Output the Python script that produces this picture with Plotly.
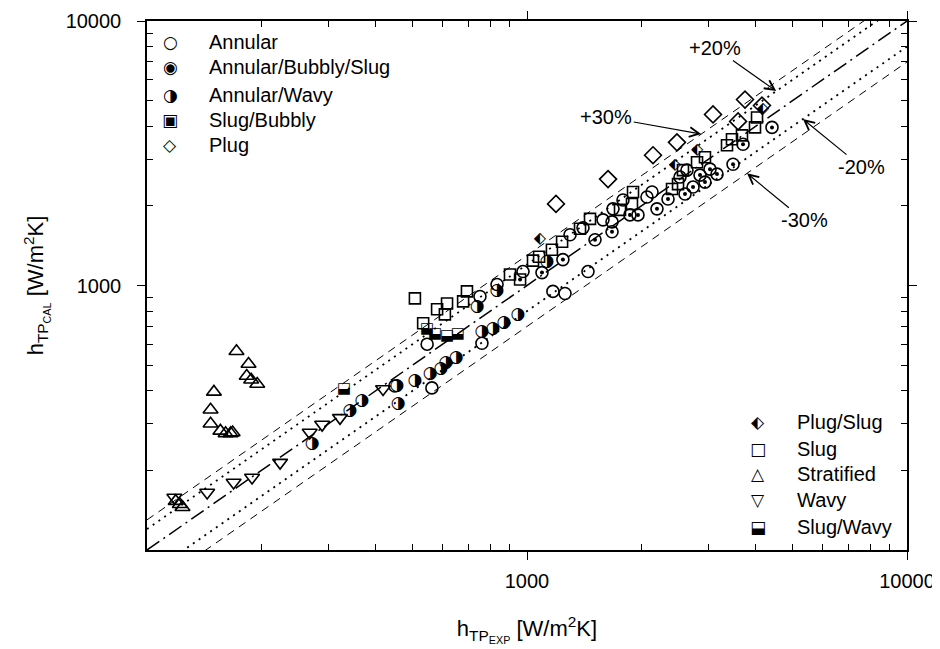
import math
import plotly.graph_objects as go

# ---------------- data (h_TP_EXP, h_TP_CAL) in W/m2K ----------------
annular_x = [546, 752, 761, 834, 976, 1170, 1259, 1447, 562, 449, 1585, 1684, 1789, 2133, 2069, 2527, 2636, 1674, 1298, 1404]
annular_y = [600, 909, 605, 1009, 1129, 950, 933, 1129, 410, 417, 1771, 1949, 2106, 2257, 2161, 2570, 2730, 1740, 1555, 1652]

abs_x = [1095, 1243, 1510, 1674, 1866, 1959, 2198, 2350, 2605, 2735, 2853, 2940, 3162, 3485, 3702, 4413, 3031]
abs_y = [1119, 1253, 1489, 1596, 1849, 1849, 1949, 2123, 2218, 2356, 2614, 2460, 2637, 2874, 3419, 3961, 2754]

aw_x = [272, 455, 507, 556, 594, 612, 651, 458, 739, 834, 761, 814, 870, 947, 1129, 342, 368]
aw_y = [252, 417, 436, 463, 483, 509, 531, 357, 834, 958, 671, 689, 720, 778, 1231, 336, 366]

sb_x = [959]
sb_y = [1053]

plug_x = [1192, 1634, 2146, 2481, 3087, 3747, 3593, 4153]
plug_y = [2034, 2526, 3108, 3478, 4433, 5047, 4172, 4791]

ps_x = [1082, 2452, 2802, 4178]
ps_y = [1502, 2851, 3245, 4629]

slug_x = [507, 533, 580, 616, 608, 679, 695, 902, 1037, 1076, 1465, 1379, 1757, 1889, 1901, 2408,
          2497, 2573, 2802, 2940, 3360, 3463, 3679, 3981, 4030, 1163, 1237]
slug_y = [894, 720, 813, 855, 778, 871, 950, 1100, 1242, 1285, 1786, 1638, 1932, 2034, 2257, 2316,
          2418, 2730, 2925, 3055, 3389, 3570, 3696, 3961, 4318, 1365, 1464]

strat_x = [172, 185, 183, 188, 195, 150, 147, 147, 156, 161, 166, 168, 119, 122, 124]
strat_y = [564, 505, 455, 440, 424, 396, 339, 300, 282, 276, 276, 278, 153, 149, 145]

wavy_x = [118, 144, 169, 189, 224, 268, 289, 322, 418]
wavy_y = [158, 165, 180, 188, 214, 278, 298, 316, 406]

sw_x = [546, 573, 616, 658, 330]
sw_y = [683, 654, 643, 654, 406]

ratios = [1.3, 1.2, 1.0, 0.8, 0.7]
axis_range = [100, 10000]

FONT = "Liberation Sans, Arial, Helvetica, sans-serif"
GLYPH = "DejaVu Sans"

fig = go.Figure()

# reference lines y = r * x
line_styles = {1.3: ("8px,6px", 1.0), 1.2: ("2px,5px", 1.8), 1.0: ("15px,5px,2px,5px", 1.5),
               0.8: ("2px,5px", 1.8), 0.7: ("8px,6px", 1.0)}
for r in ratios:
    dash, w = line_styles[r]
    fig.add_trace(go.Scatter(x=axis_range, y=[r * v for v in axis_range], mode="lines",
                             line=dict(color="black", width=w, dash=dash),
                             showlegend=False, hoverinfo="skip"))


def mk(x, y, symbol, size, name, width=1.6):
    fig.add_trace(go.Scatter(x=x, y=y, mode="markers", name=name, showlegend=False,
                             marker=dict(symbol=symbol, size=size, color="black",
                                         line=dict(color="black", width=width))))


def glyph(x, y, ch, size, name):
    fig.add_trace(go.Scatter(x=x, y=y, mode="text", name=name, showlegend=False,
                             text=[ch] * len(x),
                             textfont=dict(family=GLYPH, size=size, color="black")))


mk(strat_x, strat_y, "triangle-up-open", 13, "Stratified")
mk(wavy_x, wavy_y, "triangle-down-open", 13, "Wavy")
mk(slug_x, slug_y, "square-open", 11, "Slug")
mk(annular_x, annular_y, "circle-open", 12, "Annular")
mk(plug_x, plug_y, "diamond-open", 13, "Plug")
glyph(sw_x, sw_y, "\u2B13", 15, "Slug/Wavy")
glyph(aw_x, aw_y, "\u25D1", 17, "Annular/Wavy")
mk(abs_x, abs_y, "circle-open", 12, "Annular/Bubbly/Slug")
mk(abs_x, abs_y, "circle", 4, "Annular/Bubbly/Slug centre", width=0)
mk(sb_x, sb_y, "square-open", 11, "Slug/Bubbly")
mk(sb_x, sb_y, "circle", 4, "Slug/Bubbly centre", width=0)
glyph(ps_x, ps_y, "\u2B16", 16, "Plug/Slug")

annotations = []
# percent labels with arrows (head on the line, label at tail)
heads = {"+20%": (4527, 1.2, -61, -43), "+30%": (2874, 1.3, -95, -17),
         "-20%": (5321, 0.8, 59, 48), "-30%": (3793, 0.7, 57, 47)}
for lab, (hx, r, ax, ay) in heads.items():
    annotations.append(dict(x=math.log10(hx), y=math.log10(hx * r), xref="x", yref="y",
                            text=lab, showarrow=True, ax=ax, ay=ay, arrowhead=5,
                            arrowsize=1.6, arrowwidth=1.2, arrowcolor="black",
                            font=dict(family=FONT, size=20, color="black")))

# legends
leg1 = [("\u25CB", "Annular"), ("\u25C9", "Annular/Bubbly/Slug"), ("\u25D1", "Annular/Wavy"),
        ("\u25A3", "Slug/Bubbly"), ("\u25C7", "Plug")]
leg2 = [("\u2B16", "Plug/Slug"), ("\u25A1", "Slug"), ("\u25B3", "Stratified"),
        ("\u25BD", "Wavy"), ("\u2B13", "Slug/Wavy")]
rows1 = [0.960, 0.913, 0.861, 0.812, 0.765]
rows2 = [0.2425, 0.1917, 0.1429, 0.094, 0.0432]
for (sym, lab), yy in zip(leg1, rows1):
    annotations.append(dict(x=0.0303, y=yy, xref="paper", yref="paper", text=sym, showarrow=False,
                            xanchor="center", yanchor="middle",
                            font=dict(family=GLYPH, size=17, color="black")))
    annotations.append(dict(x=0.0789, y=yy, xref="paper", yref="paper", text=lab, showarrow=False,
                            xanchor="left", yanchor="middle",
                            font=dict(family=FONT, size=20, color="black")))
for (sym, lab), yy in zip(leg2, rows2):
    annotations.append(dict(x=0.804, y=yy, xref="paper", yref="paper", text=sym, showarrow=False,
                            xanchor="center", yanchor="middle",
                            font=dict(family=GLYPH, size=17, color="black")))
    annotations.append(dict(x=0.8526, y=yy, xref="paper", yref="paper", text=lab, showarrow=False,
                            xanchor="left", yanchor="middle",
                            font=dict(family=FONT, size=20, color="black")))

minor_vals = [200, 300, 400, 500, 600, 700, 800, 900, 2000, 3000, 4000, 5000, 6000, 7000, 8000, 9000]
major_vals = [1000, 10000]

axis_common = dict(type="log", range=[2, 4], showline=True, linecolor="black", linewidth=1.5,
                   mirror="allticks", ticks="outside", ticklen=8, tickwidth=1.2, tickcolor="black",
                   tickvals=major_vals, ticktext=[str(v) for v in major_vals],
                   tickfont=dict(family=FONT, size=20, color="black"),
                   ticklabeloverflow="allow",
                   showgrid=False, zeroline=False,
                   minor=dict(tickvals=minor_vals, ticks="inside", ticklen=6, tickwidth=1.2,
                              tickcolor="black", showgrid=False))

fig.update_layout(
    width=932, height=641, paper_bgcolor="white", plot_bgcolor="white",
    margin=dict(l=139, r=33, t=2, b=99),
    showlegend=False,
    xaxis=dict(**axis_common, ticklabelstandoff=4,
               title=dict(text="h<sub>TP<sub>EXP</sub></sub> [W/m<sup>2</sup>K]",
                          font=dict(family=FONT, size=22, color="black"), standoff=30)),
    yaxis=dict(**axis_common, ticklabelstandoff=12,
               title=dict(text="h<sub>TP<sub>CAL</sub></sub> [W/m<sup>2</sup>K]",
                          font=dict(family=FONT, size=22, color="black"), standoff=16)),
    annotations=annotations,
)

fig.write_html("out.html")
